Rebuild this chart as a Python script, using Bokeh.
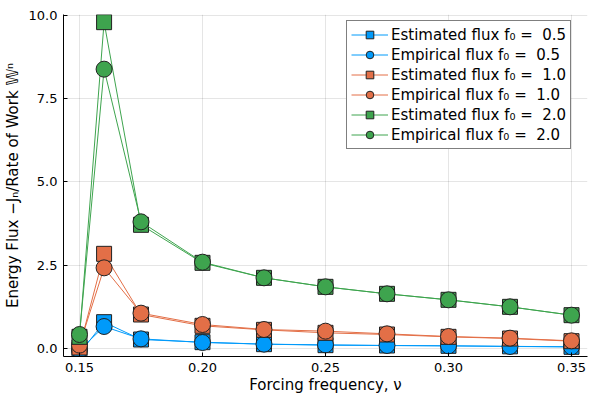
from bokeh.plotting import figure
from bokeh.models import Range1d, FixedTicker, Legend, LegendItem, CustomJSTickFormatter
from bokeh.embed import file_html
from bokeh.resources import INLINE

freq = [0.15, 0.16, 0.175, 0.2, 0.225, 0.25, 0.275, 0.3, 0.325, 0.35]

est_05 = [-0.15, 0.79, 0.27, 0.19, 0.13, 0.10, 0.09, 0.08, 0.065, 0.05]
emp_05 = [-0.05, 0.66, 0.29, 0.18, 0.13, 0.11, 0.09, 0.08, 0.06, 0.05]
est_10 = [0.03, 2.84, 1.02, 0.68, 0.56, 0.47, 0.42, 0.35, 0.30, 0.22]
emp_10 = [0.10, 2.42, 1.06, 0.72, 0.57, 0.52, 0.44, 0.36, 0.31, 0.23]
est_20 = [0.35, 9.79, 3.71, 2.57, 2.12, 1.85, 1.64, 1.46, 1.25, 1.00]
emp_20 = [0.42, 8.38, 3.80, 2.59, 2.12, 1.85, 1.64, 1.46, 1.25, 1.00]

labels = ["Estimated flux f\u2080 =  0.5", "Empirical flux f\u2080 =  0.5",
          "Estimated flux f\u2080 =  1.0", "Empirical flux f\u2080 =  1.0",
          "Estimated flux f\u2080 =  2.0", "Empirical flux f\u2080 =  2.0"]

series = [est_05, emp_05, est_10, emp_10, est_20, emp_20]
colors = ["#009AFA", "#009AFA", "#E36F47", "#E36F47", "#3EA44E", "#3EA44E"]
markers = ["square", "circle", "square", "circle", "square", "circle"]

p = figure(width=600, height=400, output_backend="svg", toolbar_location=None,
           x_range=Range1d(0.1435, 0.3565), y_range=Range1d(-0.24, 10.02),
           min_border_left=63, min_border_right=13, min_border_top=14, min_border_bottom=44)
p.outline_line_color = None

items = []
for ys, c, m, lab in zip(series, colors, markers, labels):
    r1 = p.line(freq, ys, line_color=c, line_width=1)
    r2 = p.scatter(freq, ys, marker=m, size=15 if m == "square" else 16,
                   fill_color=c, line_color="#222222", line_width=1)
    items.append(LegendItem(label=lab, renderers=[r1, r2]))

legend = Legend(items=items, location=(283, 207))
legend.label_text_font = "DejaVu Sans"
legend.label_text_font_size = "15px"
legend.label_text_color = "black"
legend.label_height = 19
legend.glyph_height = 19
legend.glyph_width = 37
legend.spacing = 1
legend.padding = 4
legend.margin = 0
legend.label_standoff = 3
legend.border_line_color = "black"
legend.border_line_width = 1
legend.background_fill_alpha = 1
p.add_layout(legend)

p.xaxis.ticker = FixedTicker(ticks=[0.15, 0.20, 0.25, 0.30, 0.35])
p.yaxis.ticker = FixedTicker(ticks=[0.0, 2.5, 5.0, 7.5, 10.0])
p.xaxis.formatter = CustomJSTickFormatter(code="return tick.toFixed(2);")
p.yaxis.formatter = CustomJSTickFormatter(code="return tick.toFixed(1);")

for ax in (p.xaxis, p.yaxis):
    ax.axis_line_color = "black"
    ax.major_tick_in = 4
    ax.major_tick_out = 0
    ax.major_tick_line_color = "black"
    ax.minor_tick_line_color = None
    ax.major_label_text_font = "DejaVu Sans"
    ax.major_label_text_font_size = "13px"
    ax.major_label_text_color = "black"
    ax.axis_label_text_font = "DejaVu Sans"
    ax.axis_label_text_font_size = "15px"
    ax.axis_label_text_color = "black"
    ax.axis_label_text_font_style = "normal"
    ax.major_label_standoff = 6

p.xaxis.axis_label_standoff = 1
p.yaxis.axis_label_standoff = 4

p.xaxis.axis_label = "Forcing frequency, \u03bd"
p.yaxis.axis_label = "Energy Flux \u2212J\u2099/Rate of Work \U0001D54E\u207f"

p.grid.grid_line_color = "#000000"
p.grid.grid_line_alpha = 0.1

open("out.html", "w").write(file_html(p, INLINE))
